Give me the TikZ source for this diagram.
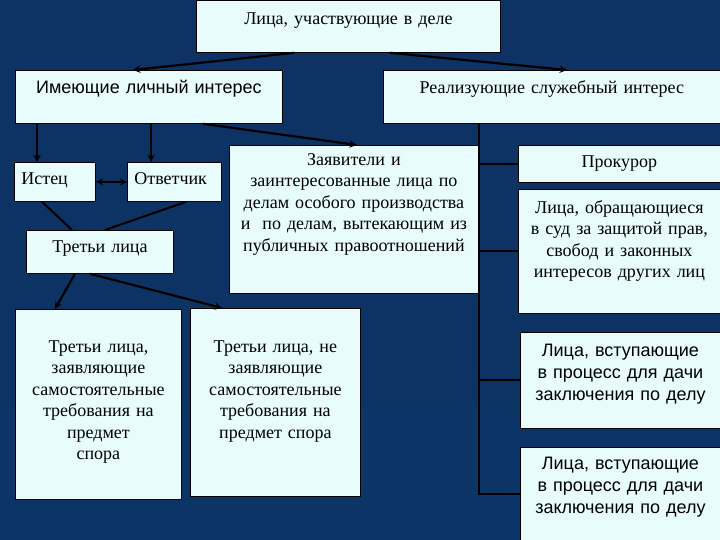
\documentclass[tikz,border=0pt]{standalone}
\usepackage{fontspec}
\setmainfont{Liberation Serif}
\setsansfont{Liberation Sans}
\definecolor{bgtop}{RGB}{14,50,100}
\definecolor{bgmid}{RGB}{50,96,148}
\definecolor{bgbot}{RGB}{12,52,102}
\definecolor{boxfill}{RGB}{232,252,252}
\begin{document}
\begin{tikzpicture}[
        x=1pt, y=-1pt,
        box/.style={draw=black, line width=0.8pt, fill=boxfill, anchor=north west,
            inner xsep=4pt, inner ysep=0pt, align=center,
            font=\fontsize{18}{21.5}\selectfont},
        sansbox/.style={box, font=\sffamily\fontsize{18}{22}\selectfont},
        forward/.style={->, line width=2.2pt},
        link/.style={line width=2pt},
        >=stealth
    ]
        \useasboundingbox (0,0) rectangle (720,540);
        \shade[top color=bgtop, middle color=bgmid, bottom color=bgbot] (0,0) rectangle (720,540);

        \node[box, text width=296pt, text height=24pt, text depth=28pt] (all) at (196,0) {Лица, участвующие в деле};
        \node[sansbox, text width=259pt, text height=23pt, text depth=30pt] (personal) at (15,70) {Имеющие личный интерес};
        \node[box, text width=329pt, text height=23pt, text depth=30pt] (official) at (383,70) {Реализующие служебный интерес};

        \node[box, align=left, inner xsep=7pt, text width=67pt, text height=22pt, text depth=17pt] (istec) at (14,162) {Истец};
        \node[box, align=left, inner xsep=7pt, text width=80pt, text height=22pt, text depth=17pt] (otv) at (127,162) {Ответчик};
        \node[box, text width=139pt, text height=22pt, text depth=21pt] (third) at (26,230) {Третьи лица};
        \node[box, text width=241pt, text height=20pt, text depth=128pt] (zayav) at (229,145)
            {Заявители и\\ заинтересованные лица по\\ делам особого производства\\ и~ по делам, вытекающим из\\ публичных правоотношений};

        \node[box, text width=194pt, text height=22pt, text depth=15pt] (prok) at (518,145) {Прокурор};
        \node[box, text width=194pt, text height=24pt, text depth=100pt] (others) at (518,189)
            {Лица, обращающиеся\\ в суд за защитой прав,\\ свобод и законных\\ интересов других лиц};
        \node[sansbox, text width=192pt, text height=24pt, text depth=72pt] (conc1) at (520,332)
            {Лица, вступающие\\ в процесс для дачи\\ заключения по делу};
        \node[sansbox, text width=192pt, text height=22pt, text depth=71pt] (conc2) at (520,447)
            {Лица, вступающие\\ в процесс для дачи\\ заключения по делу};

        \node[box, text width=158pt, text height=43pt, text depth=147pt] (claim3) at (15,309)
            {Третьи лица,\\ заявляющие\\ самостоятельные\\ требования на\\ предмет\\ спора};
        \node[box, text width=162pt, text height=44pt, text depth=144pt] (noclaim3) at (190,308)
            {Третьи лица, не\\ заявляющие\\ самостоятельные\\ требования на\\ предмет спора};

        % top level
        \draw[forward] (all.south -| 294,0) -- (personal.north -| 133,0);
        \draw[forward] (all.south -| 390,0) -- (official.north -| 567,0);

        % personal interest
        \draw[forward] (personal.south -| 37,0) -- (istec.north -| 37,0);
        \draw[forward] (personal.south -| 151,0) -- (otv.north -| 151,0);
        \draw[forward] (personal.south -| 203,0) -- (zayav.north -| 357,0);
        \draw[<->, line width=2.2pt] (istec) -- (otv);
        \draw[link] (istec.south -| 42,0) -- (third.north -| 72,0);
        \draw[link] (otv.south -| 186,0) -- (third.north -| 105,0);
        \draw[forward] (third.south -| 75,0) -- (claim3.north -| 55,0);
        \draw[forward] (third.south -| 90,0) -- (noclaim3.north -| 222,0);

        % official interest
        \coordinate (spine) at (official.south -| 479,0);
        \foreach \n in {prok, others, conc1, conc2}
            \draw[link] (spine) |- (\n.west);
    \end{tikzpicture}
\end{document}
